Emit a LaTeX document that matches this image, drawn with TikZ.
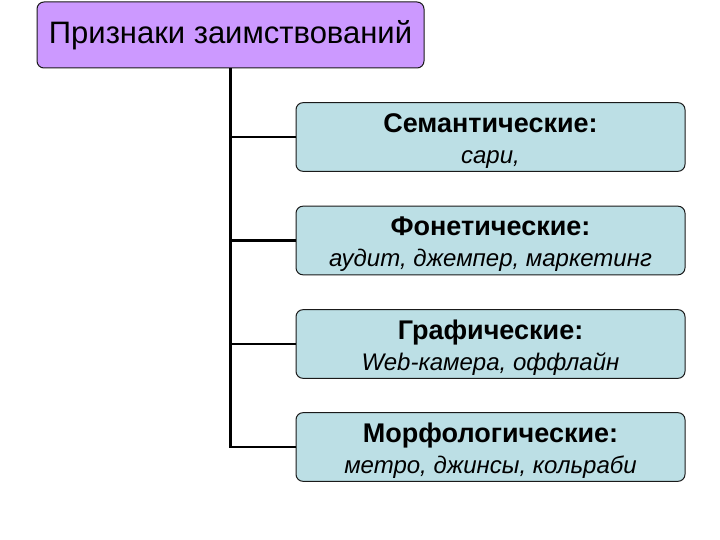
\documentclass[tikz,border=0pt]{standalone}
\usepackage{fontspec}
\setmainfont{Liberation Sans}
\usetikzlibrary{positioning}
\definecolor{rootlilac}{HTML}{CC99FF}
\definecolor{softblue}{HTML}{BCDFE5}
\definecolor{ink}{HTML}{1A1A1A}
\begin{document}
\begin{tikzpicture}[x=1pt,y=-1pt,
  root/.style={draw=ink,line width=1pt,rounded corners=7pt,fill=rootlilac,minimum width=387pt,minimum height=66pt,font=\fontsize{31}{36}\selectfont},
  kind/.style={draw=ink,line width=1pt,rounded corners=7pt,fill=softblue,minimum width=389pt,minimum height=67pt,align=center,font=\fontsize{24}{31}\selectfont},
  link/.style={draw=black,line width=2.2pt}
]
\useasboundingbox (0,0) rectangle (720,540);
\node[root] (r) at (230.5,35) {Признаки заимствований};
\node[kind] (s) at (490.5,137) {\rule{0pt}{26pt}{\fontsize{27}{31}\selectfont\bfseries Семантические:}\\\textit{сари,}};
\node[kind] (f) at (490.5,240.5) {\rule{0pt}{26pt}{\fontsize{27}{31}\selectfont\bfseries Фонетические:}\\\textit{аудит, джемпер, маркетинг}};
\node[kind] (g) at (490.5,344) {\rule{0pt}{26pt}{\fontsize{27}{31}\selectfont\bfseries Графические:}\\\textit{Web-камера, оффлайн}};
\node[kind] (m) at (490.5,447) {\rule{0pt}{26pt}{\fontsize{27}{31}\selectfont\bfseries Морфологические:}\\\textit{метро, джинсы, кольраби}};
\draw[link] (r.south) -- (r.south |- m.west) -- (m.west);
\foreach \x in {s,f,g} \draw[link] (r.south |- \x.west) -- (\x.west);
\end{tikzpicture}
\end{document}
